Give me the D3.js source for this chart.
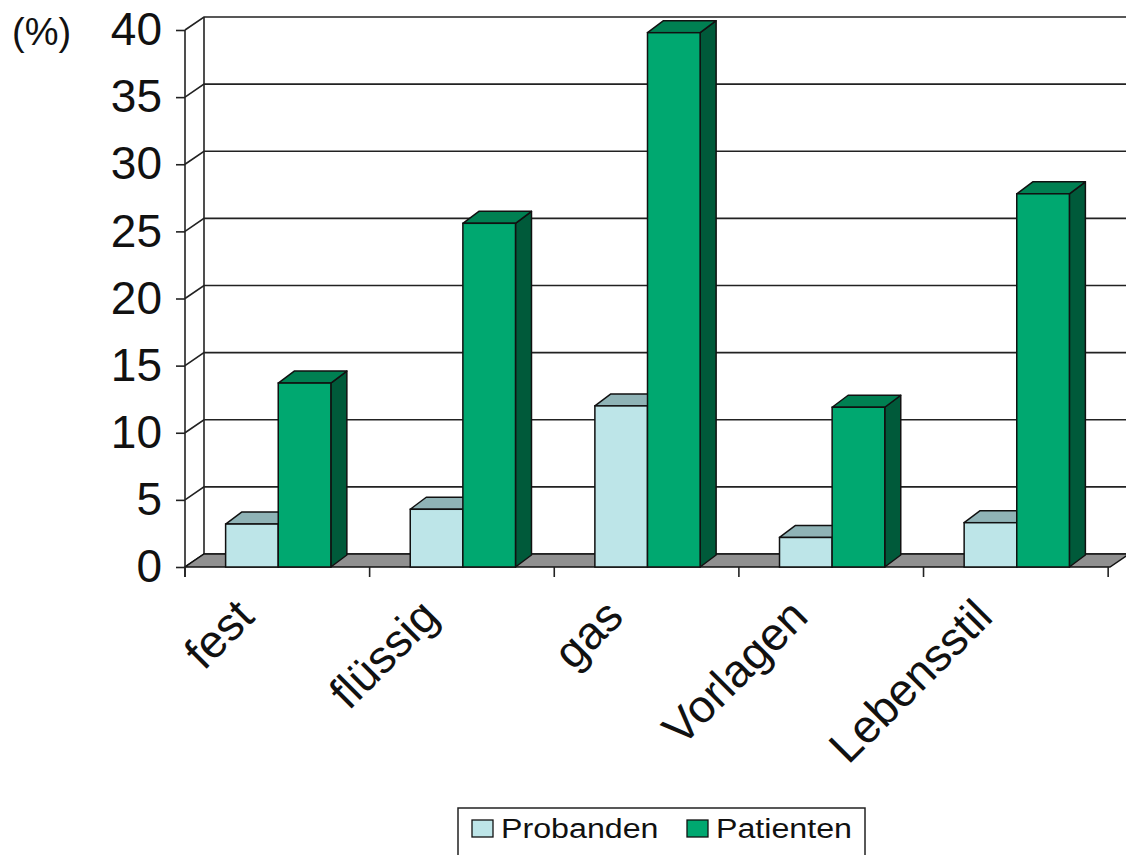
<!DOCTYPE html>
<html>
<head>
<meta charset="utf-8">
<script src="https://cdn.jsdelivr.net/npm/d3@7"></script>
<style>
    body { margin: 0; background: #fff; }
    svg { display: block; font-family: "Liberation Sans", Arial, sans-serif; }
</style>
</head>
<body>
<div id="chart"></div>
<script>
// data
var categories = ["fest", "flüssig", "gas", "Vorlagen", "Lebensstil"];
var seriesNames = ["Probanden", "Patienten"];
var probanden = [3.2, 4.3, 12, 2.2, 3.3];
var patienten = [13.7, 25.6, 39.8, 11.9, 27.8];
var yTicks = [0, 5, 10, 15, 20, 25, 30, 35, 40];

var width = 1126, height = 855;
var plotLeft = 185, plotRight = 1110, plotTop = 30, plotBottom = 567;
var wallDx = 19, wallDy = -13;   // depth of floor / walls
var barDx = 16, barDy = -12;     // depth of a column

var colors = {
    Probanden: { front: "#bde5e8", top: "#8fb3b6", side: "#7fa0a3" },
    Patienten: { front: "#00a870", top: "#008052", side: "#005a3a" }
};

var svg = d3.select("#chart").append("svg")
    .attr("width", width)
    .attr("height", height);

var y = d3.scaleLinear().domain([0, 40]).range([plotBottom, plotTop]);
var x0 = d3.scaleBand().domain(categories).range([plotLeft, plotRight]).paddingInner(0.43).paddingOuter(0.22);
var x1 = d3.scaleBand().domain(seriesNames).range([0, x0.bandwidth()]);

var line = d3.line();

// back wall gridlines + left wall slants
yTicks.forEach(function(t) {
    svg.append("path")
        .attr("d", line([[plotLeft, y(t)], [plotLeft + wallDx, y(t) + wallDy], [width + 5, y(t) + wallDy]]))
        .attr("fill", "none")
        .attr("stroke", "#222")
        .attr("stroke-width", 1.6);
});

// back vertical edge of left wall
svg.append("line")
    .attr("x1", plotLeft + wallDx).attr("x2", plotLeft + wallDx)
    .attr("y1", y(0) + wallDy).attr("y2", y(40) + wallDy)
    .attr("stroke", "#222").attr("stroke-width", 1.6);

// floor
svg.append("path")
    .attr("d", line([[plotLeft, y(0)], [plotRight, y(0)], [plotRight + wallDx, y(0) + wallDy], [plotLeft + wallDx, y(0) + wallDy]]) + "Z")
    .attr("fill", "#909090")
    .attr("stroke", "#111")
    .attr("stroke-width", 1.5);

// front value axis
svg.append("line")
    .attr("x1", plotLeft).attr("x2", plotLeft)
    .attr("y1", y(0) + 10).attr("y2", y(40))
    .attr("stroke", "#222").attr("stroke-width", 1.6);

var yAxis = svg.append("g").attr("transform", "translate(" + plotLeft + ",0)")
    .call(d3.axisLeft(y).tickValues(yTicks).tickSize(9).tickPadding(14));
yAxis.select(".domain").remove();
yAxis.selectAll("line").attr("stroke", "#222").attr("stroke-width", 1.6);
yAxis.selectAll("text")
    .attr("font-size", 46)
    .attr("font-family", "Liberation Sans, Arial, sans-serif")
    .attr("fill", "#111");

svg.append("text")
    .attr("x", 12).attr("y", 45)
    .attr("font-size", 38)
    .attr("fill", "#111")
    .text("(%)");

// category ticks along the floor front edge
var step = x0.step();
d3.range(categories.length + 1).forEach(function(i) {
    svg.append("line")
        .attr("x1", plotLeft + i * step).attr("x2", plotLeft + i * step)
        .attr("y1", y(0)).attr("y2", y(0) + 10)
        .attr("stroke", "#222").attr("stroke-width", 1.6);
});

// one 3d column: side, top, front
function drawBar(g, bx, bw, v, c) {
    var yt = y(v), yb = y(0);
    g.append("path")
        .attr("d", line([[bx + bw, yb], [bx + bw + barDx, yb + barDy], [bx + bw + barDx, yt + barDy], [bx + bw, yt]]) + "Z")
        .attr("fill", c.side).attr("stroke", "#111").attr("stroke-width", 1.5).attr("stroke-linejoin", "round");
    g.append("path")
        .attr("d", line([[bx, yt], [bx + barDx, yt + barDy], [bx + bw + barDx, yt + barDy], [bx + bw, yt]]) + "Z")
        .attr("fill", c.top).attr("stroke", "#111").attr("stroke-width", 1.5).attr("stroke-linejoin", "round");
    g.append("rect")
        .attr("x", bx).attr("y", yt)
        .attr("width", bw).attr("height", yb - yt)
        .attr("fill", c.front).attr("stroke", "#111").attr("stroke-width", 1.5);
}

var bars = svg.append("g");
categories.forEach(function(cat, i) {
    var vals = { Probanden: probanden[i], Patienten: patienten[i] };
    seriesNames.forEach(function(s) {
        drawBar(bars, x0(cat) + x1(s), x1.bandwidth(), vals[s], colors[s]);
    });
});

// rotated category labels
svg.selectAll(".catLabel")
    .data(categories)
    .enter().append("text")
    .attr("class", "catLabel")
    .attr("text-anchor", "end")
    .attr("font-size", 46)
    .attr("fill", "#111")
    .attr("transform", function(d) {
        return "translate(" + (x0(d) + x0.bandwidth() / 2 - 22) + "," + (plotBottom + 52) + ") rotate(-45)";
    })
    .text(function(d) { return d; });

// legend
var legend = svg.append("g");
legend.append("rect")
    .attr("x", 458).attr("y", 808)
    .attr("width", 407).attr("height", 60)
    .attr("fill", "#fff").attr("stroke", "#222").attr("stroke-width", 1.5);

var legendX = [472, 687];
seriesNames.forEach(function(s, i) {
    legend.append("rect")
        .attr("x", legendX[i]).attr("y", 820)
        .attr("width", 21).attr("height", 17)
        .attr("fill", colors[s].front).attr("stroke", "#111").attr("stroke-width", 1.3);
    // reference text is a bit stretched sideways
    legend.append("text")
        .attr("transform", "translate(" + (legendX[i] + 29) + ",838) scale(1.15,1)")
        .attr("font-size", 28)
        .attr("fill", "#111")
        .text(s);
});
</script>
</body>
</html>
